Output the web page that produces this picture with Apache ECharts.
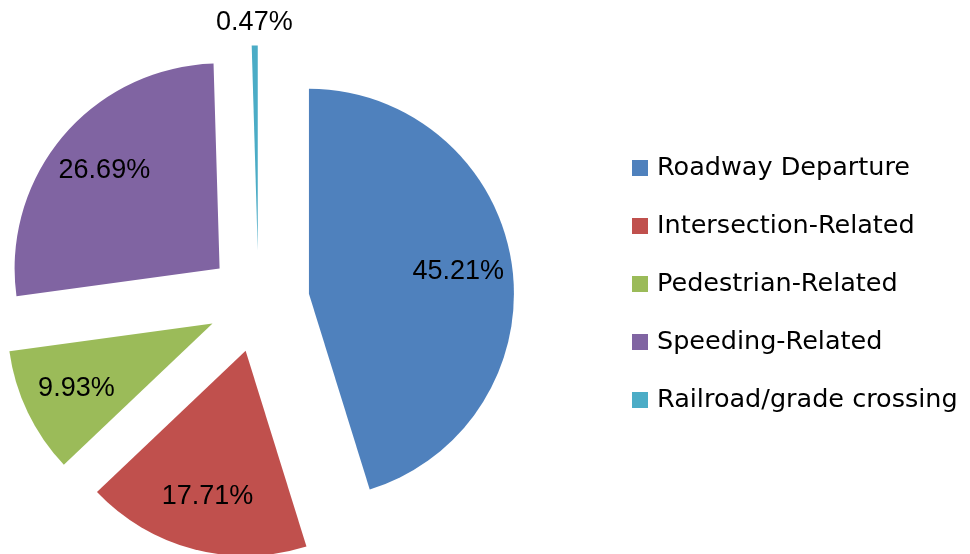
<!DOCTYPE html>
<html>
<head>
<meta charset="utf-8">
<title>Crash types</title>
<script src="https://cdn.jsdelivr.net/npm/echarts@6/dist/echarts.min.js"></script>
<style>
  html, body { margin: 0; padding: 0; background: #fff; }
  #chart { width: 970px; height: 554px; }
</style>
</head>
<body>
<div id="chart"></div>
<script>
// categorias y porcentajes
const categorias = ['Roadway Departure', 'Intersection-Related', 'Pedestrian-Related', 'Speeding-Related', 'Railroad/grade crossing'];
const porcentajes = [45.21, 17.71, 9.93, 26.69, 0.47];
const colores = ['#4F81BD', '#C0504D', '#9BBB59', '#8064A2', '#4BACC6'];
// la porcion pequena lleva su etiqueta fuera
const etiquetaFuera = [false, false, false, false, true];

const myChart = echarts.init(document.getElementById('chart'));

const centro = [258.5, 301.5];
const radio = 205;
const separacion = 51;

const fuenteEtiqueta = { fontFamily: '"Liberation Sans", Arial, sans-serif', fontSize: 27, color: '#000' };

// serie principal: las porciones separadas
const datosPie = categorias.map((name, i) => ({
  name,
  value: porcentajes[i],
  selected: true,
  itemStyle: { color: colores[i] },
  label: { show: etiquetaFuera[i] }
}));

// serie transparente solo para colocar las etiquetas interiores mas hacia fuera
const datosEtiquetas = categorias.map((name, i) => ({
  name,
  value: porcentajes[i],
  selected: true,
  label: { show: !etiquetaFuera[i] }
}));

const option = {
  animation: false,
  legend: {
    orient: 'vertical',
    left: 632,
    top: 153,
    padding: 0,
    itemWidth: 16,
    itemHeight: 16,
    itemGap: 28,
    icon: 'rect',
    data: categorias,
    selectedMode: false,
    textStyle: {
      fontFamily: '"DejaVu Sans", sans-serif',
      fontSize: 25.5,
      lineHeight: 30,
      color: '#000',
      padding: [0, 0, 0, 4]
    }
  },
  series: [
    {
      name: 'Tipos',
      type: 'pie',
      center: centro,
      radius: radio,
      startAngle: 90,
      clockwise: true,
      selectedMode: 'multiple',
      selectedOffset: separacion,
      avoidLabelOverlap: false,
      silent: true,
      itemStyle: { borderWidth: 0 },
      select: { itemStyle: { borderWidth: 0 } },
      emphasis: { disabled: true },
      label: {
        position: 'outside',
        formatter: p => p.value.toFixed(2) + '%',
        distanceToLabelLine: 0,
        ...fuenteEtiqueta
      },
      labelLine: { show: false, length: 23, length2: 0 },
      labelLayout: { align: 'center' },
      data: datosPie
    },
    {
      name: 'Etiquetas',
      type: 'pie',
      center: centro,
      radius: [91, radio],
      startAngle: 90,
      clockwise: true,
      selectedMode: 'multiple',
      selectedOffset: separacion,
      silent: true,
      itemStyle: { color: 'rgba(0,0,0,0)', borderWidth: 0 },
      select: { itemStyle: { color: 'rgba(0,0,0,0)', borderWidth: 0 } },
      emphasis: { disabled: true },
      label: {
        position: 'inside',
        formatter: p => p.value.toFixed(2) + '%',
        ...fuenteEtiqueta
      },
      labelLine: { show: false },
      data: datosEtiquetas
    }
  ]
};

myChart.setOption(option);

window.addEventListener('resize', () => myChart.resize());
</script>
</body>
</html>
